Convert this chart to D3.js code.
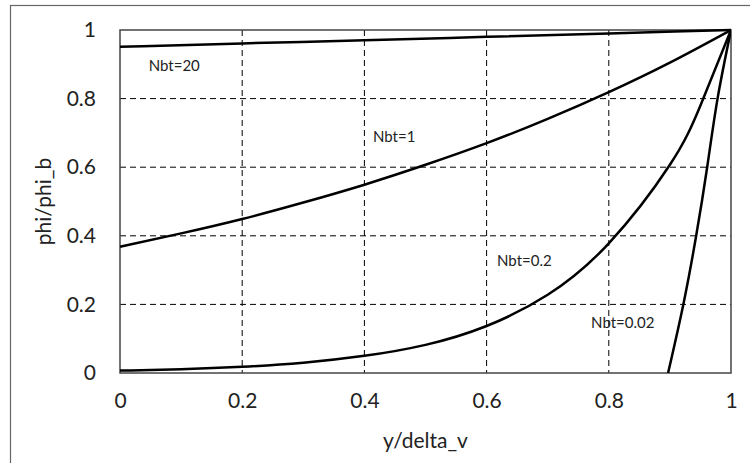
<!DOCTYPE html>
<html lang="en">
  <head>
    <title>phi/phi_b vs y/delta_v</title>
    <script src="https://d3js.org/d3.v7.min.js"></script>
    <style>
      body { margin: 0; background: #fff; }
      svg { display: block; }
      text { font-family: Lato, "Open Sans", sans-serif; fill: #222; }
      .grid line { stroke: #000; stroke-width: 1; stroke-dasharray: 6,4; }
      .curve { fill: none; stroke: #000; stroke-width: 2.5; }
    </style>
  </head>
  <body>
    <script>
      // values
      const xTicks = [0, 0.2, 0.4, 0.6, 0.8, 1];
      const yTicks = [0, 0.2, 0.4, 0.6, 0.8, 1];

      const xNbt20 = [0, 0.2, 0.4, 0.6, 0.8, 1];
      const yNbt20 = [0.951, 0.961, 0.970, 0.980, 0.990, 1];

      const xNbt1 = [0, 0.1, 0.2, 0.3, 0.4, 0.5, 0.6, 0.7, 0.8, 0.9, 1];
      const yNbt1 = [0.368, 0.407, 0.449, 0.497, 0.549, 0.607, 0.670, 0.741, 0.819, 0.905, 1];

      const xNbt02 = [0, 0.1, 0.2, 0.3, 0.4, 0.5, 0.6, 0.7, 0.8, 0.9, 0.95, 1];
      const yNbt02 = [0.007, 0.011, 0.018, 0.030, 0.050, 0.082, 0.137, 0.228, 0.378, 0.607, 0.78, 1];

      const xNbt002 = [0.897, 0.922, 0.943, 0.961, 0.978, 1];
      const yNbt002 = [0, 0.2, 0.4, 0.6, 0.8, 1];

      const labels = ['Nbt=20', 'Nbt=1', 'Nbt=0.2', 'Nbt=0.02'];
      const labelX = [0.047, 0.414, 0.617, 0.771];
      const labelY = [0.895, 0.69, 0.327, 0.146];

      const w = 750;
      const h = 463;
      const mLeft = 120, mRight = 731, mTop = 30, mBottom = 373;

      const xScale = d3.scaleLinear().domain([0, 1]).range([mLeft, mRight]);
      const yScale = d3.scaleLinear().domain([0, 1]).range([mBottom, mTop]);

      const svg = d3.select('body')
                    .append('svg')
                    .attr('width', w)
                    .attr('height', h);

      // outer chart frame
      svg.append('rect')
         .attr('x', 10.5)
         .attr('y', 5.5)
         .attr('width', 760)
         .attr('height', 480)
         .attr('fill', 'none')
         .attr('stroke', '#666')
         .attr('stroke-width', 1.2);

      // dashed gridlines
      const grid = svg.append('g').attr('class', 'grid');
      grid.selectAll('.gx')
          .data(xTicks.slice(1, -1))
          .enter()
          .append('line')
           .attr('x1', d => xScale(d))
           .attr('x2', d => xScale(d))
           .attr('y1', mTop)
           .attr('y2', mBottom);
      grid.selectAll('.gy')
          .data(yTicks.slice(1, -1))
          .enter()
          .append('line')
           .attr('x1', mLeft)
           .attr('x2', mRight)
           .attr('y1', d => yScale(d))
           .attr('y2', d => yScale(d));

      // plot frame
      svg.append('rect')
         .attr('x', mLeft)
         .attr('y', mTop)
         .attr('width', mRight - mLeft)
         .attr('height', mBottom - mTop)
         .attr('fill', 'none')
         .attr('stroke', '#444')
         .attr('stroke-width', 1.5);

      const xAxis = d3.axisBottom(xScale).tickValues(xTicks).tickFormat(d3.format('')).tickSize(0).tickPadding(20);
      const yAxis = d3.axisLeft(yScale).tickValues(yTicks).tickFormat(d3.format('')).tickSize(0).tickPadding(24);

      const gx = svg.append('g')
         .attr('transform', `translate(0, ${mBottom})`)
         .call(xAxis);
      const gy = svg.append('g')
         .attr('transform', `translate(${mLeft}, 0)`)
         .call(yAxis);
      [gx, gy].forEach(g => {
        g.select('.domain').remove();
        g.selectAll('text')
         .style('font-family', 'Lato, "Open Sans", sans-serif')
         .style('font-size', '21px')
         .attr('fill', '#222');
      });

      // curves
      const line = d3.line()
                     .x(d => xScale(d[0]))
                     .y(d => yScale(d[1]))
                     .curve(d3.curveNatural);

      const series = [
        d3.zip(xNbt20, yNbt20),
        d3.zip(xNbt1, yNbt1),
        d3.zip(xNbt02, yNbt02),
        d3.zip(xNbt002, yNbt002)
      ];

      svg.append('defs').append('clipPath')
         .attr('id', 'clip')
         .append('rect')
          .attr('x', mLeft)
          .attr('y', mTop - 2)
          .attr('width', mRight - mLeft)
          .attr('height', mBottom - mTop + 2);

      svg.append('g')
         .attr('clip-path', 'url(#clip)')
         .selectAll('path')
         .data(series)
         .enter()
         .append('path')
          .attr('class', 'curve')
          .attr('d', line);

      // curve labels
      svg.selectAll('.lbl')
         .data(labels)
         .enter()
         .append('text')
          .attr('class', 'lbl')
          .attr('x', (d, i) => xScale(labelX[i]))
          .attr('y', (d, i) => yScale(labelY[i]))
          .attr('dy', '0.35em')
          .style('font-size', '15px')
          .text(d => d);

      // axis titles
      svg.append('text')
         .attr('x', (mLeft + mRight) / 2)
         .attr('y', 448)
         .attr('text-anchor', 'middle')
         .style('font-size', '21px')
         .text('y/delta_v');

      svg.append('text')
         .attr('transform', `translate(51, ${(mTop + mBottom) / 2}) rotate(-90)`)
         .attr('text-anchor', 'middle')
         .style('font-size', '21px')
         .text('phi/phi_b');
    </script>
  </body>
</html>
